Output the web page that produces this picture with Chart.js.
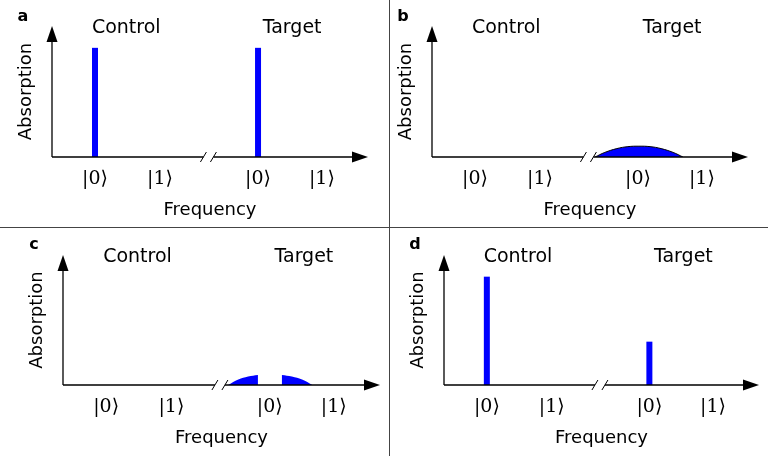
<!DOCTYPE html>
<html>
<head>
<meta charset="utf-8">
<script src="https://cdn.jsdelivr.net/npm/chart.js@4"></script>
<style>
  html, body { margin: 0; padding: 0; background: #fff; }
  #fig  { position: relative; width: 768px; height: 456px; overflow: hidden; }
  .panel { position: absolute; }
  .panel canvas { display: block; }
  .rule { position: absolute; background: #444; }
</style>
</head>
<body>
<div id="fig">
  <div class="panel" style="left:0;top:0"><canvas id="chart_a" width="389" height="227"></canvas></div>
  <div class="panel" style="left:390px;top:0"><canvas id="chart_b" width="378" height="227"></canvas></div>
  <div class="panel" style="left:0;top:228px"><canvas id="chart_c" width="389" height="228"></canvas></div>
  <div class="panel" style="left:390px;top:228px"><canvas id="chart_d" width="378" height="228"></canvas></div>
  <div class="rule" style="left:389px;top:0;width:1px;height:456px"></div>
  <div class="rule" style="left:0;top:227px;width:768px;height:1px"></div>
</div>
<script>
// ── DATA ───────────────────────────────────────────────────────────────────

// frequency axis runs 0–100 (arrow tip); the axis is broken between the qubits
const KET_X      = [13.6, 34.2, 65.2, 85.4];
const KET_LABELS = ['|0⟩', '|1⟩', '|0⟩', '|1⟩'];
const HEADERS    = ['Control', 'Target'];
const HEADER_X   = [23.5, 76];
const BREAK_X    = 49.5;
const Y_MAX      = 1.2;

// a: sharp lines on both qubits
const LINES_A_X = [13.6, 65.2];
const LINES_A_H = [1.0, 1.0];

// b: target line broadened
const HUMP_B_X = [51.6, 54.7, 58.5, 62.0, 65.5, 69.0, 72.5, 76.3, 79.4];
const HUMP_B_Y = [0, 0.042, 0.077, 0.095, 0.099, 0.095, 0.077, 0.042, 0];

// c: broadened line with a hole around target |0⟩
const HOLE_L_X = [52.1, 55.3, 58.4, 61.5];
const HOLE_L_Y = [0, 0.05, 0.078, 0.092];
const HOLE_R_X = [69.0, 72.2, 75.4, 78.7];
const HOLE_R_Y = [0.092, 0.078, 0.05, 0];

// d: control full, target reduced
const LINES_D_X = [13.6, 65.2];
const LINES_D_H = [1.0, 0.40];

// ── STYLE ──────────────────────────────────────────────────────────────────

const BLUE = '#0000ff';
const SANS = '"DejaVu Sans", sans-serif';
const SERIF = '"DejaVu Serif", serif';

// ── HELPERS ────────────────────────────────────────────────────────────────

function stickLines(xs, hs) {
  return xs.map((x, i) => ({
    data: [{ x, y: 0 }, { x, y: hs[i] }],
    borderColor: BLUE,
    borderWidth: 6,
    pointRadius: 0,
    tension: 0,
  }));
}

function area(xs, ys, outline) {
  return {
    data: xs.map((x, i) => ({ x, y: ys[i] })),
    borderColor: outline ? '#000' : BLUE,
    borderWidth: outline ? 1 : 0,
    backgroundColor: BLUE,
    fill: 'origin',
    pointRadius: 0,
    tension: 0.4,
  };
}

// axes with arrow heads, broken frequency axis, Control/Target headers, panel letter
const sketchAxes = {
  id: 'sketchAxes',
  afterDatasetsDraw(chart, args, opts) {
    const { ctx, chartArea: { left, right, top, bottom }, scales: { x } } = chart;
    const bx = x.getPixelForValue(BREAK_X);
    ctx.save();
    ctx.strokeStyle = '#000';
    ctx.fillStyle = '#000';
    ctx.lineWidth = 1.3;

    // y axis
    ctx.beginPath();
    ctx.moveTo(left, bottom);
    ctx.lineTo(left, top + 12);
    ctx.stroke();
    ctx.beginPath();
    ctx.moveTo(left, top);
    ctx.lineTo(left - 5.5, top + 16);
    ctx.lineTo(left + 5.5, top + 16);
    ctx.closePath();
    ctx.fill();

    // x axis, broken
    ctx.beginPath();
    ctx.moveTo(left, bottom);
    ctx.lineTo(bx - 5, bottom);
    ctx.moveTo(bx + 5, bottom);
    ctx.lineTo(right - 12, bottom);
    ctx.stroke();
    ctx.beginPath();
    ctx.moveTo(right, bottom);
    ctx.lineTo(right - 16, bottom - 5.5);
    ctx.lineTo(right - 16, bottom + 5.5);
    ctx.closePath();
    ctx.fill();

    // break slashes
    ctx.lineWidth = 1;
    [bx - 5, bx + 5].forEach(cx => {
      ctx.beginPath();
      ctx.moveTo(cx - 3, bottom + 5);
      ctx.lineTo(cx + 3, bottom - 5);
      ctx.stroke();
    });

    // headers
    ctx.font = `19px ${SANS}`;
    ctx.textAlign = 'center';
    ctx.textBaseline = 'middle';
    HEADERS.forEach((h, i) => ctx.fillText(h, x.getPixelForValue(HEADER_X[i]), top + 2));

    // panel letter
    ctx.font = `bold 16px ${SANS}`;
    ctx.textBaseline = 'alphabetic';
    ctx.fillText(opts.letter, left - 29, 21);
    ctx.restore();
  },
};

// ── PANELS ─────────────────────────────────────────────────────────────────

function buildPanel(id, letter, datasets, axisLeft, axisRight, axisTop) {
  const canvas = document.getElementById(id);
  const W = canvas.width, H = canvas.height;

  new Chart(canvas.getContext('2d'), {
    type: 'line',
    data: { datasets },
    options: {
      responsive: false,
      animation: false,
      events: [],
      layout: { padding: { left: axisLeft - 36, right: W - axisRight, top: axisTop, bottom: H - 227 } },
      plugins: {
        legend: { display: false },
        tooltip: { enabled: false },
        sketchAxes: { letter },
      },
      scales: {
        x: {
          type: 'linear',
          min: 0,
          max: 100,
          afterFit: s => { s.height = 70; },
          afterBuildTicks: s => { s.ticks = KET_X.map(v => ({ value: v })); },
          ticks: {
            autoSkip: false,
            maxRotation: 0,
            padding: 11,
            color: '#000',
            font: { family: SERIF, size: 19 },
            callback: (v, i) => KET_LABELS[i],
          },
          grid: { display: false, drawTicks: false },
          border: { display: false },
          title: {
            display: true,
            text: 'Frequency',
            color: '#000',
            font: { family: SANS, size: 18 },
            padding: { top: 0, bottom: 6 },
          },
        },
        y: {
          min: 0,
          max: Y_MAX,
          afterFit: s => { s.width = 36; },
          ticks: { display: false },
          grid: { display: false, drawTicks: false },
          border: { display: false },
          title: {
            display: true,
            text: 'Absorption',
            color: '#000',
            font: { family: SANS, size: 18 },
            padding: { top: 0, bottom: 0 },
          },
        },
      },
    },
    plugins: [sketchAxes],
  });
}

buildPanel('chart_a', 'a', stickLines(LINES_A_X, LINES_A_H), 52, 368, 26);
buildPanel('chart_b', 'b', [area(HUMP_B_X, HUMP_B_Y, true)], 42, 358, 26);
buildPanel('chart_c', 'c', [area(HOLE_L_X, HOLE_L_Y, false), area(HOLE_R_X, HOLE_R_Y, false)], 63, 380, 27);
buildPanel('chart_d', 'd', stickLines(LINES_D_X, LINES_D_H), 54, 369, 27);
</script>
</body>
</html>
